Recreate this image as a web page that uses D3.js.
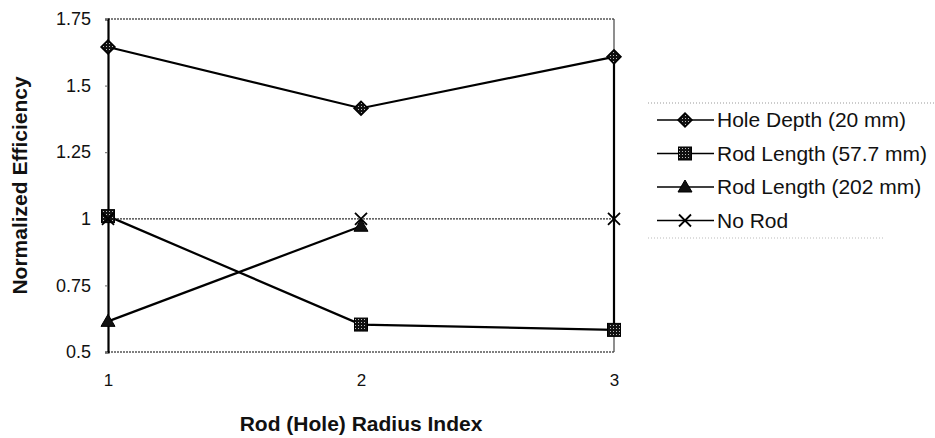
<!DOCTYPE html>
<html><head><meta charset="utf-8">
<script src="https://cdn.jsdelivr.net/npm/d3@7"></script>
<style>body{margin:0;background:#fff}svg{display:block;font-family:"Liberation Sans",Arial,sans-serif}</style>
</head><body><svg id="c" width="935" height="438"></svg>
<script>
const categories = [1, 2, 3];
const holeDepth = [1.645, 1.415, 1.608];
const rodLength57 = [1.01, 0.603, 0.583];
const rodLength202 = [0.615, 0.972, null];
const noRod = [1, 1, 1];
const yTicks = [0.5, 0.75, 1, 1.25, 1.5, 1.75];
const seriesNames = ["Hole Depth (20 mm)", "Rod Length (57.7 mm)", "Rod Length (202 mm)", "No Rod"];
const xTitle = "Rod (Hole) Radius Index";
const yTitle = "Normalized Efficiency";

const series = [
  {name: seriesNames[0], values: holeDepth, marker: "diamond", w: 2.2},
  {name: seriesNames[1], values: rodLength57, marker: "square", w: 2.2},
  {name: seriesNames[2], values: rodLength202, marker: "triangle", w: 2.2},
  {name: seriesNames[3], values: noRod, marker: "x", w: 1.2}
];

const FF = "Liberation Sans, Arial, sans-serif";
const svg = d3.select("#c");
const L = 108, R = 614, T = 19, B = 352;
const x = d3.scaleLinear().domain([1, 3]).range([L, R]);
const y = d3.scaleLinear().domain([0.5, 1.75]).range([B, T]);

// plot border (dotted, scanned look)
svg.append("line").attr("x1", L).attr("x2", R).attr("y1", T).attr("y2", T)
  .attr("stroke", "#555").attr("stroke-width", 1.5).attr("stroke-dasharray", "2,1");
svg.append("line").attr("x1", L).attr("x2", R).attr("y1", B).attr("y2", B)
  .attr("stroke", "#555").attr("stroke-width", 1.5).attr("stroke-dasharray", "2,1");
svg.append("line").attr("x1", R).attr("x2", R).attr("y1", T).attr("y2", B)
  .attr("stroke", "#444").attr("stroke-width", 1.2);
// heavy segment at x=3 between extreme values
const v3 = series.map(s => s.values[2]).filter(v => v != null);
svg.append("line").attr("x1", x(3)).attr("x2", x(3)).attr("y1", y(d3.max(v3))).attr("y2", y(d3.min(v3)))
  .attr("stroke", "#000").attr("stroke-width", 2.2);

// y axis
const yAxis = d3.axisLeft(y).tickValues(yTicks).tickSize(3).tickPadding(14)
  .tickFormat(d => String(d));
const ga = svg.append("g").attr("transform", `translate(${L},0)`).call(yAxis);
ga.attr("font-size", null).attr("font-family", null);
ga.select(".domain").attr("stroke", "#000").attr("stroke-width", 2.2);
ga.selectAll(".tick line").attr("stroke", "#666");
ga.selectAll(".tick text").style("font-size", "18px").style("font-family", FF).attr("fill", "#111");

// x axis labels
const xAxis = d3.axisBottom(x).tickValues(categories).tickSize(0).tickPadding(22).tickFormat(d3.format("d"));
const gx = svg.append("g").attr("transform", `translate(0,${B})`).call(xAxis);
gx.attr("font-size", null).attr("font-family", null);
gx.select(".domain").remove();
gx.selectAll(".tick text").style("font-size", "17px").style("font-family", FF).attr("fill", "#111");

// titles
svg.append("text").attr("x", 361).attr("y", 431).attr("text-anchor", "middle")
  .style("font-size", "21px").style("font-family", FF).attr("font-weight", "bold").attr("fill", "#111").text(xTitle);
svg.append("text").attr("transform", `translate(27,${(T + B) / 2}) rotate(-90)`).attr("text-anchor", "middle")
  .style("font-size", "21px").style("font-family", FF).attr("font-weight", "bold").attr("fill", "#111").text(yTitle);

// lines
const line = d3.line().defined(d => d.v != null).x(d => x(d.c)).y(d => y(d.v));
series.forEach(s => {
  const pts = categories.map((c, i) => ({c, v: s.values[i]}));
  svg.append("path").datum(pts).attr("d", line).attr("fill", "none")
    .attr("stroke", s.marker === "x" ? "#333" : "#000").attr("stroke-width", s.w)
    .attr("stroke-dasharray", s.marker === "x" ? "2,1" : null);
});

// pattern for markers
const defs = svg.append("defs");
const pat = defs.append("pattern").attr("id", "dots").attr("width", 3).attr("height", 3).attr("patternUnits", "userSpaceOnUse");
pat.append("rect").attr("width", 3).attr("height", 3).attr("fill", "#111");
pat.append("rect").attr("x", 1).attr("y", 1).attr("width", 1).attr("height", 1).attr("fill", "#bbb");

function marker(g, type, cx, cy) {
  if (type === "diamond") {
    g.append("path").attr("d", `M${cx},${cy-7}L${cx+7},${cy}L${cx},${cy+7}L${cx-7},${cy}Z`)
      .attr("fill", "url(#dots)").attr("stroke", "#000").attr("stroke-width", 1.5);
  } else if (type === "square") {
    g.append("rect").attr("x", cx - 6.5).attr("y", cy - 6.5).attr("width", 13).attr("height", 13)
      .attr("fill", "url(#dots)").attr("stroke", "#000").attr("stroke-width", 1);
  } else if (type === "triangle") {
    g.append("path").attr("d", `M${cx},${cy-7}L${cx+7},${cy+5}L${cx-7},${cy+5}Z`)
      .attr("fill", "#111").attr("stroke", "#000").attr("stroke-width", 1);
  } else {
    g.append("path").attr("d", `M${cx-6},${cy-6}L${cx+6},${cy+6}M${cx+6},${cy-6}L${cx-6},${cy+6}`)
      .attr("stroke", "#000").attr("stroke-width", 1.8).attr("fill", "none");
  }
}
series.forEach(s => {
  const g = svg.append("g");
  categories.forEach((c, i) => { if (s.values[i] != null) marker(g, s.marker, x(c), y(s.values[i])); });
});

// legend
const lg = svg.append("g");
lg.append("line").attr("x1", 648).attr("x2", 935).attr("y1", 103).attr("y2", 103)
  .attr("stroke", "#999").attr("stroke-dasharray", "1,2");
lg.append("line").attr("x1", 648).attr("x2", 885).attr("y1", 238).attr("y2", 238)
  .attr("stroke", "#bbb").attr("stroke-dasharray", "1,2");
series.forEach((s, i) => {
  const yy = 120 + i * 33.5;
  lg.append("line").attr("x1", 657).attr("x2", 714).attr("y1", yy).attr("y2", yy)
    .attr("stroke", "#000").attr("stroke-width", 1.5);
  marker(lg, s.marker, 685, yy);
  lg.append("text").attr("x", 717).attr("y", yy + 7).style("font-size", "21px").style("font-family", FF)
    .attr("fill", "#111").text(s.name);
});
</script></body></html>
